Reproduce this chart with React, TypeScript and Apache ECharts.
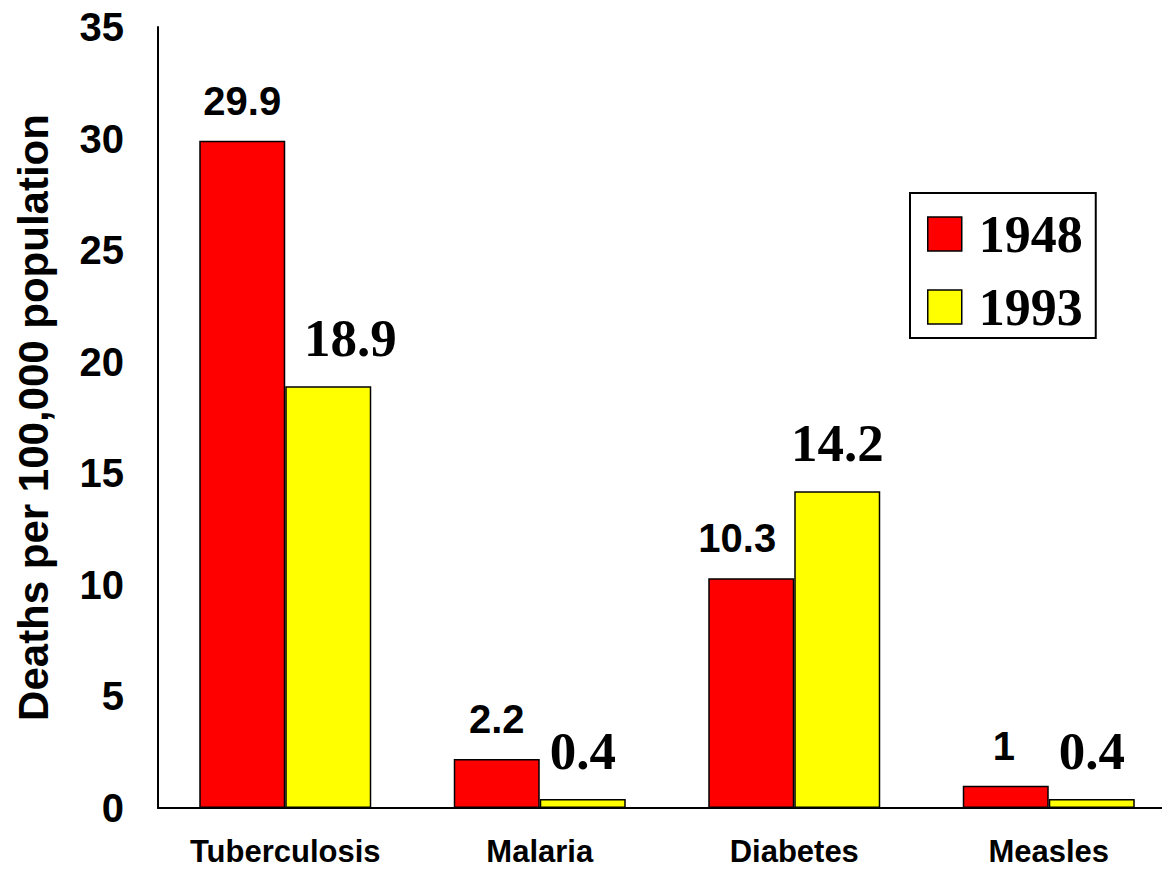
import React, { useEffect, useRef } from "react";
import * as echarts from "echarts";

const categories = ["Tuberculosis", "Malaria", "Diabetes", "Measles"];
const seriesNames = ["1948", "1993"];
const values1948 = [29.9, 2.2, 10.3, 1];
const values1993 = [18.9, 0.4, 14.2, 0.4];
const labelOffsets1948 = [[0, 0], [0, 0], [-14, 0], [-2, 0]];
const labelOffsets1993 = [[22, 0], [0, 0], [0, 0], [0, 0]];

const SANS = "'Liberation Sans', Arial, sans-serif";
const SERIF = "'Liberation Serif', 'Times New Roman', serif";

export default function App() {
  const ref = useRef<HTMLDivElement>(null);
  useEffect(() => {
    if (!ref.current) return;
    const chart = echarts.init(ref.current, null, { renderer: "svg" });
    chart.setOption({
      animation: false,
      backgroundColor: "#ffffff",
      grid: { left: 158, top: 27, width: 1018, height: 781 },
      legend: {
        orient: "vertical",
        left: 910,
        top: 193,
        padding: [15, 13, 5, 17],
        borderColor: "#000",
        borderWidth: 2,
        itemWidth: 34,
        itemHeight: 34,
        itemGap: 21,
        icon: "rect",
        itemStyle: { borderColor: "#000", borderWidth: 1.5 },
        textStyle: {
          fontFamily: SERIF,
          fontWeight: "bold",
          fontSize: 52,
          color: "#000",
          padding: [0, 0, 0, 12],
        },
        data: seriesNames,
      },
      xAxis: {
        type: "category",
        data: categories,
        axisLine: { show: true, lineStyle: { color: "#000", width: 2 } },
        axisTick: { show: false },
        axisLabel: {
          interval: 0,
          fontFamily: SANS,
          fontWeight: "bold",
          fontSize: 31,
          lineHeight: 28,
          color: "#000",
          margin: 29,
        },
      },
      yAxis: {
        type: "value",
        min: 0,
        max: 35,
        interval: 5,
        name: "Deaths per 100,000 population",
        nameLocation: "middle",
        nameGap: 104,
        nameTextStyle: {
          fontFamily: SANS,
          fontWeight: "bold",
          fontSize: 42,
          color: "#000",
        },
        axisLine: { show: true, lineStyle: { color: "#000", width: 2 } },
        axisTick: { show: false },
        splitLine: { show: false },
        axisLabel: {
          fontFamily: SANS,
          fontWeight: "bold",
          fontSize: 40,
          color: "#000",
          margin: 34,
        },
      },
      series: [
        {
          name: seriesNames[0],
          type: "bar",
          barWidth: 86,
          barGap: "0%",
          itemStyle: { color: "#ff0000", borderColor: "#000", borderWidth: 1.5 },
          label: {
            show: true,
            position: "top",
            distance: 20,
            fontFamily: SANS,
            fontWeight: "bold",
            fontSize: 40,
            color: "#000",
          },
          data: values1948.map((v, i) => ({ value: v, label: { offset: labelOffsets1948[i] } })),
        },
        {
          name: seriesNames[1],
          type: "bar",
          barWidth: 86,
          barGap: "0%",
          itemStyle: { color: "#ffff00", borderColor: "#000", borderWidth: 1.5 },
          label: {
            show: true,
            position: "top",
            distance: 22,
            fontFamily: SERIF,
            fontWeight: "bold",
            fontSize: 53,
            color: "#000",
          },
          data: values1993.map((v, i) => ({ value: v, label: { offset: labelOffsets1993[i] } })),
        },
      ],
    });
    return () => chart.dispose();
  }, []);
  return (
    <div
      style={{
        position: "absolute",
        left: 0,
        top: 0,
        width: 1162,
        height: 869,
        overflow: "hidden",
        background: "#fff",
      }}
    >
      <div ref={ref} style={{ width: 1190, height: 869 }} />
    </div>
  );
}
